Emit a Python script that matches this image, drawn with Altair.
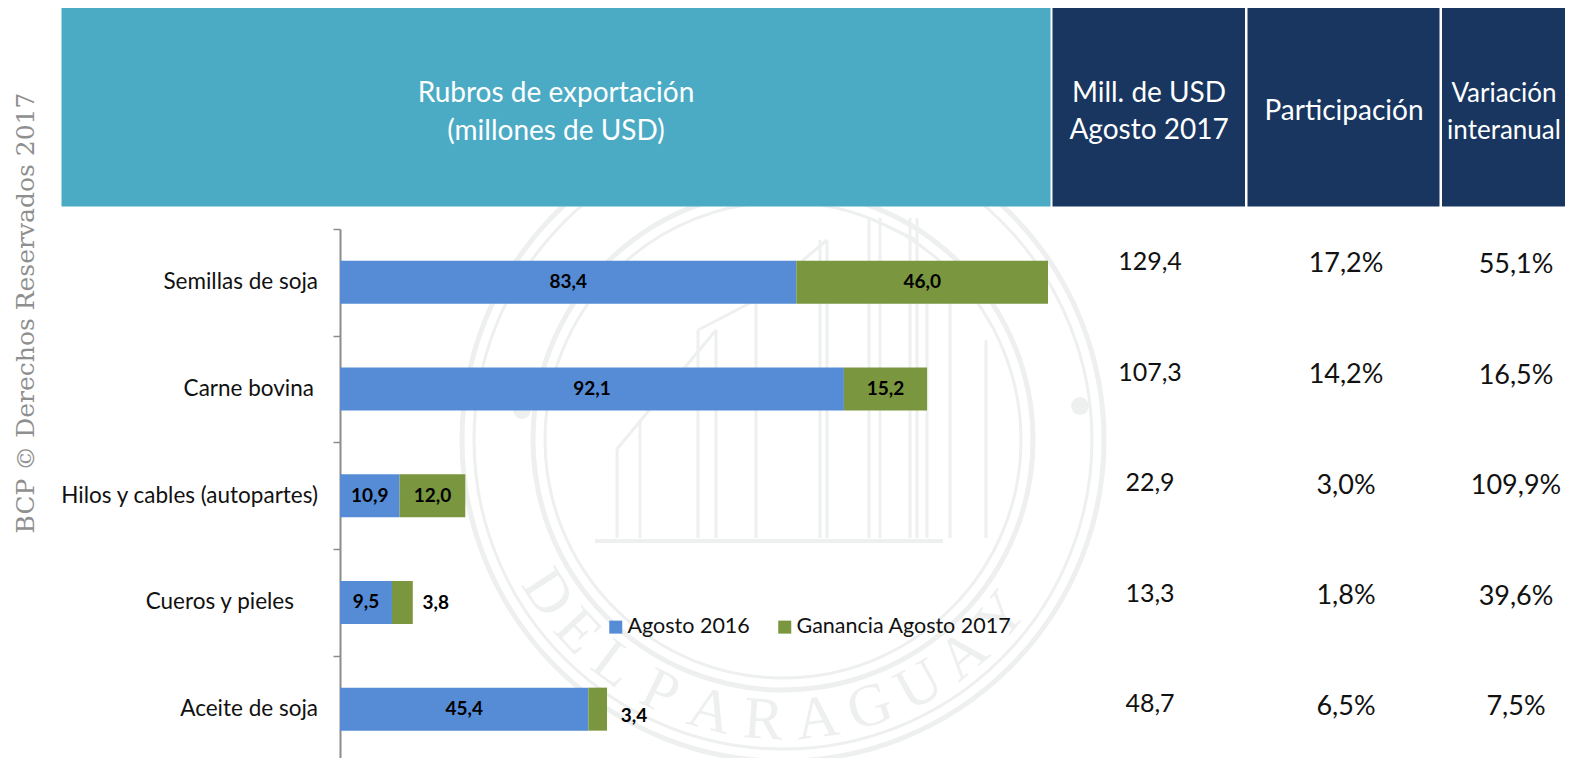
import math
import altair as alt
import pandas as pd

# ---------- data ----------
RUBROS = ["Semillas de soja", "Carne bovina", "Hilos y cables (autopartes)", "Cueros y pieles", "Aceite de soja"]
ETIQUETA_DX = [0, -4, 0, -24, 0]
AGOSTO_2016 = [83.4, 92.1, 10.9, 9.5, 45.4]
GANANCIA_2017 = [46.0, 15.2, 12.0, 3.8, 3.4]
SERIES = ["Agosto 2016", "Ganancia Agosto 2017"]
COLORES = ["#568CD5", "#7A963E"]
MILL_USD = ["129,4", "107,3", "22,9", "13,3", "48,7"]
PARTICIPACION = ["17,2%", "14,2%", "3,0%", "1,8%", "6,5%"]
VARIACION = ["55,1%", "16,5%", "109,9%", "39,6%", "7,5%"]

FONT = "Lato"
INK = "#111111"
WM = "#EDF0EF"
OFF = 8  # page margin


def fx(v):
    return v - OFF


rows = []
for i, r in enumerate(RUBROS):
    rows.append({"rubro": r, "serie": SERIES[0], "orden": 0, "valor": AGOSTO_2016[i], "base": 0})
    rows.append({"rubro": r, "serie": SERIES[1], "orden": 1, "valor": GANANCIA_2017[i], "base": AGOSTO_2016[i]})
df = pd.DataFrame(rows)

x_scale = alt.Scale(domain=[0, 129.4], range=[fx(340), fx(1048)], nice=False, zero=True)
y_scale = alt.Scale(domain=RUBROS, range=[fx(229), fx(762.5)], paddingInner=0, paddingOuter=0)
one = pd.DataFrame({"k": [0]})
layers = []

# ---------- watermark seal ----------
for R, w in [(321, 5), (309, 3), (250, 5), (238, 3)]:
    layers.append(alt.Chart(one).mark_point(filled=False, shape="circle", color=WM, strokeWidth=w, opacity=1)
                  .encode(x=alt.value(fx(783)), y=alt.value(fx(440)), size=alt.value((2 * R) ** 2)))
for dot_x, dot_y in [(522, 410), (1080, 406)]:
    layers.append(alt.Chart(one).mark_point(filled=True, shape="circle", color=WM, opacity=1)
                  .encode(x=alt.value(fx(dot_x)), y=alt.value(fx(dot_y)), size=alt.value(320)))
SEAL_LETTERS = list("DELPARAGUAY")
SEAL_THETA = [-57, -47, -37, -26, -15, -4, 7, 18, 29, 40, 51]
for letra, th in zip(SEAL_LETTERS, SEAL_THETA):
    t = math.radians(th)
    layers.append(alt.Chart(one).mark_text(text=letra, font="Liberation Serif", fontSize=60, color=WM,
                                           angle=(360 - th) % 360, align="center", baseline="middle")
                  .encode(x=alt.value(fx(783 + 281 * math.sin(t))), y=alt.value(fx(440 + 281 * math.cos(t)))))
BUILD_X = [617, 640, 698, 716, 756, 820, 827, 869, 880, 910, 917, 927, 950, 986]
BUILD_TOP = [449, 420, 330, 330, 300, 240, 240, 218, 218, 218, 218, 300, 300, 340]
for xv, yt in zip(BUILD_X, BUILD_TOP):
    layers.append(alt.Chart(one).mark_rule(color=WM, strokeWidth=3)
                  .encode(x=alt.value(fx(xv)), y=alt.value(fx(yt)), y2=alt.value(fx(538))))
layers.append(alt.Chart(one).mark_rule(color=WM, strokeWidth=4)
              .encode(x=alt.value(fx(595)), x2=alt.value(fx(943)), y=alt.value(fx(541))))
ROOFS = [(617, 449, 716, 330), (698, 330, 756, 300), (756, 300, 827, 240), (869, 218, 917, 240)]
for xa, ya, xb, yb in ROOFS:
    layers.append(alt.Chart(one).mark_rule(color=WM, strokeWidth=3).encode(
        x=alt.value(fx(xa)), y=alt.value(fx(ya)), x2=alt.value(fx(xb)), y2=alt.value(fx(yb))))

# ---------- bars ----------
bars = alt.Chart(df).mark_bar(height=43).encode(
    x=alt.X("valor:Q", stack="zero", scale=x_scale, axis=None),
    y=alt.Y("rubro:N", scale=y_scale, title=None, sort=RUBROS, axis=alt.Axis(
        title=None, offset=-fx(340), domainColor="#8C8C8C", domainWidth=2, tickColor="#8C8C8C", tickWidth=1.5,
        tickSize=7, tickBand="extent", labels=False, grid=False)),
    color=alt.Color("serie:N", scale=alt.Scale(domain=SERIES, range=COLORES), legend=alt.Legend(
        title=None, orient="none", legendX=fx(605), legendY=fx(616), direction="horizontal", symbolType="square",
        symbolSize=169, symbolStrokeWidth=0, labelFont=FONT, labelFontSize=21.5, labelColor=INK, labelOffset=1,
        labelLimit=400, columnPadding=24, padding=0, symbolOpacity=1)),
    order="orden:Q",
)
layers.append(bars)

# ---------- category labels ----------
for r, dx in zip(RUBROS, ETIQUETA_DX):
    t = pd.DataFrame({"rubro": [r]})
    layers.append(alt.Chart(t).mark_text(font=FONT, fontSize=22.5, color=INK, align="right", dx=dx).encode(
        x=alt.value(fx(318)),
        y=alt.Y("rubro:N", scale=y_scale, axis=None),
        text="rubro:N",
    ))


# ---------- value labels ----------
def value_layer(df_in, field, dx=0, dy=0, align="center"):
    return alt.Chart(df_in).transform_calculate(
        tope="datum.base + datum.valor", mid="datum.base + datum.valor / 2",
        lab="replace(format(datum.valor, '.1f'), '.', ',')"
    ).mark_text(font=FONT, fontSize=19, fontWeight="bold", color="#000000", dx=dx, dy=dy, align=align).encode(
        x=alt.X(f"{field}:Q", scale=x_scale, axis=None),
        y=alt.Y("rubro:N", scale=y_scale, axis=None),
        text="lab:N",
    )


layers.append(value_layer(df[df.valor > 5], "mid"))
layers.append(value_layer(df[df.valor == 3.8], "tope", dx=23, dy=1))
layers.append(value_layer(df[df.valor == 3.4], "tope", dx=27, dy=7))

# ---------- table columns ----------
COLUMNAS = [(MILL_USD, 1150, 262, 704, 25), (PARTICIPACION, 1346, 264, 707, 27), (VARIACION, 1516, 265, 707, 27)]
for vals, cx, y0, y1, fs in COLUMNAS:
    t = pd.DataFrame({"rubro": RUBROS, "txt": vals})
    layers.append(alt.Chart(t).mark_text(font=FONT, fontSize=fs, color=INK, align="center").encode(
        x=alt.value(fx(cx)),
        y=alt.Y("rubro:N", sort=RUBROS, axis=None,
                scale=alt.Scale(domain=RUBROS, range=[fx(y0), fx(y1)], padding=0, type="point")),
        text="txt:N",
    ))

# ---------- header ----------
HEAD_RECTS = [(61.5, 1050.5, "#4BABC5"), (1052.5, 1245, "#18365F"), (1247.5, 1439.5, "#18365F"), (1442, 1574, "#18365F")]
for a, b, c in HEAD_RECTS:
    layers.append(alt.Chart(one).mark_rect(color=c, opacity=1).encode(
        x=alt.value(fx(a)), x2=alt.value(fx(b)), y=alt.value(fx(8)), y2=alt.value(fx(206.5))))
HEAD_TEXT = [("Rubros de exportación", 556, 94, 28), ("(millones de USD)", 556, 132, 28),
             ("Mill. de USD", 1149, 94, 28), ("Agosto  2017", 1149, 131, 28),
             ("Participación", 1344, 112, 28),
             ("Variación", 1504, 94, 26), ("interanual", 1504, 131, 26)]
for s, cx, cy, fs in HEAD_TEXT:
    layers.append(alt.Chart(one).mark_text(text=s, font=FONT, fontSize=fs, color="white", align="center", baseline="middle")
                  .encode(x=alt.value(fx(cx)), y=alt.value(fx(cy))))

# ---------- side credit ----------
layers.append(alt.Chart(one).mark_text(text="BCP © Derechos Reservados 2017", font="DejaVu Serif", fontSize=25,
                                       color="#8F8F8F", angle=270, align="center", baseline="middle")
              .encode(x=alt.value(fx(26)), y=alt.value(fx(313))))

chart = alt.layer(*layers).resolve_scale(x="independent", y="independent", color="independent").properties(
    width=1557, height=750, padding=0, autosize=alt.AutoSizeParams(type="none"), background="white"
).configure_view(stroke=None)

chart.save("out.html", embed_options={"renderer": "svg", "actions": False})
